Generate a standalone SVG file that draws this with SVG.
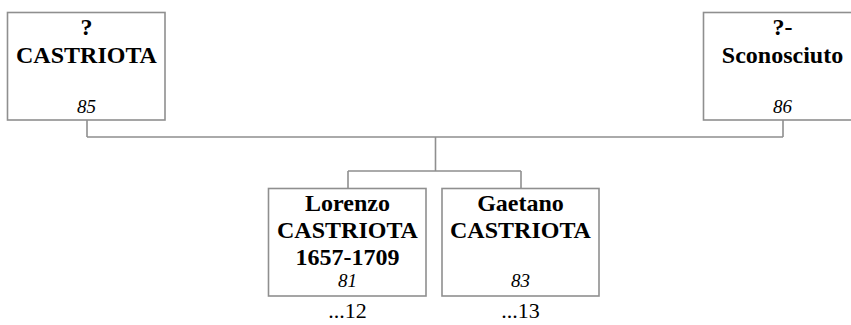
<svg xmlns="http://www.w3.org/2000/svg" width="851" height="325" viewBox="0 0 851 325">
<style>
.box{fill:#fff;stroke:#8f8f8f;stroke-width:1.6}
.ln{fill:none;stroke:#8f8f8f;stroke-width:1.6}
.b{font-family:"Liberation Serif","Times New Roman",serif;font-weight:bold;font-size:24px;text-anchor:middle;fill:#000}
.n{font-family:"Liberation Serif","Times New Roman",serif;font-style:italic;font-size:19px;text-anchor:middle;fill:#000}
.r{font-family:"Liberation Serif","Times New Roman",serif;font-size:22px;text-anchor:middle;fill:#000}
</style>
<rect width="851" height="325" fill="#fff"/>
<g id="connectors">
<path class="ln" d="M87,120 V137 M783,120 V137 M87,137 H783 M435.5,137 V171 M348,171 H521 M348,171 V188.5 M521,171 V188.5"/>
</g>
<g id="n85">
<rect class="box" x="7.5" y="12.5" width="157.5" height="107.5"/>
<text class="b" x="86.5" y="35">?</text>
<text class="b" x="86.5" y="63">CASTRIOTA</text>
<text class="n" x="86.5" y="113">85</text>
</g>
<g id="n86">
<rect class="box" x="703.5" y="12.5" width="158" height="107.5"/>
<text class="b" x="782.5" y="35">?-</text>
<text class="b" x="782.5" y="63">Sconosciuto</text>
<text class="n" x="782.5" y="113">86</text>
</g>
<g id="n81">
<rect class="box" x="268.5" y="188.5" width="157.5" height="107.5"/>
<text class="b" x="347.5" y="211">Lorenzo</text>
<text class="b" x="347.5" y="238">CASTRIOTA</text>
<text class="b" x="347.5" y="265">1657-1709</text>
<text class="n" x="347.5" y="287">81</text>
<text class="r" x="347.5" y="318">...12</text>
</g>
<g id="n83">
<rect class="box" x="442" y="188.5" width="157" height="107.5"/>
<text class="b" x="520.5" y="211">Gaetano</text>
<text class="b" x="520.5" y="238">CASTRIOTA</text>
<text class="n" x="520.5" y="287">83</text>
<text class="r" x="520.5" y="318">...13</text>
</g>
</svg>
